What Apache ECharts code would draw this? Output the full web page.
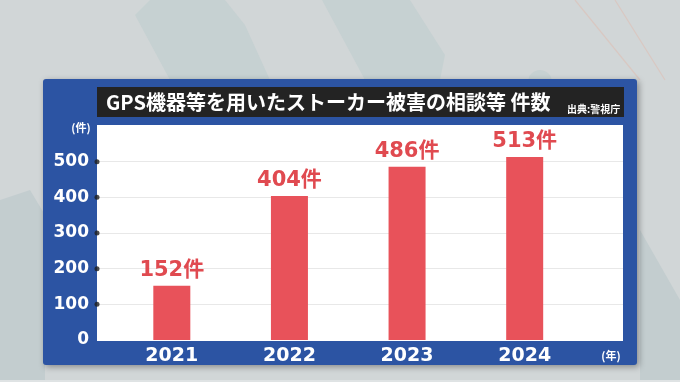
<!DOCTYPE html>
<html>
<head>
<meta charset="utf-8">
<script src="https://cdn.jsdelivr.net/npm/echarts@6/dist/echarts.min.js"></script>
<style>
html,body{margin:0;padding:0;background:#d1d6d7;}
#chart{width:680px;height:382px;}
</style>
</head>
<body>
<div id="chart"></div>
<script>
const years = ['2021', '2022', '2023', '2024'];
const counts = [152, 404, 486, 513];
const yTicks = [0, 100, 200, 300, 400, 500];
const titleText = 'GPS機器等を用いたストーカー被害の相談等 件数';
const sourceText = '出典:警視庁';
const yUnit = '(件)';
const xUnit = '(年)';
const labelSuffix = '件';

const chart = echarts.init(document.getElementById('chart'));
const numFont = '"DejaVu Sans", "Noto Sans CJK JP", sans-serif';
const jpFont = '"Noto Sans CJK JP", sans-serif';
const dotTicks = yTicks.filter(v => v > 0);

chart.setOption({
  animation: false,
  backgroundColor: '#d1d6d7',
  graphic: [
    // background decorations
    { type: 'polygon', z: -10, shape: { points: [[0,200],[30,190],[45,215],[45,382],[0,382]] }, style: { fill: '#c3cdcf' } },
    { type: 'polygon', z: -10, shape: { points: [[135,15],[150,0],[225,0],[245,25],[270,80],[170,80]] }, style: { fill: '#c6d1d2' } },
    { type: 'polygon', z: -10, shape: { points: [[322,0],[410,0],[445,55],[440,80],[365,80]] }, style: { fill: '#c6d1d2' } },
    { type: 'circle', z: -10, shape: { cx: 540, cy: 82, r: 12 }, style: { fill: '#c6d1d2' } },
    { type: 'polygon', z: -10, shape: { points: [[640,230],[680,300],[680,382],[640,382]] }, style: { fill: '#c3cdcf' } },
    { type: 'polyline', z: -10, shape: { points: [[575,0],[640,80]] }, style: { stroke: '#d9c8c2', lineWidth: 1.2, fill: null } },
    { type: 'polyline', z: -10, shape: { points: [[615,0],[665,80]] }, style: { stroke: '#d9c8c2', lineWidth: 1.2, fill: null } },
    { type: 'rect', z: -10, shape: { x: 0, y: 380, width: 680, height: 2 }, style: { fill: '#dfe3e4' } },
    // panel
    { type: 'rect', z: -5, shape: { x: 43, y: 79, width: 594, height: 286, r: 3 },
      style: { fill: '#2c54a3', shadowBlur: 6, shadowColor: 'rgba(0,0,0,0.35)', shadowOffsetX: 2, shadowOffsetY: 2 } },
    // title bar
    { type: 'rect', z: -4, shape: { x: 97, y: 87, width: 527, height: 30 }, style: { fill: '#232323' } },
    { type: 'text', z: -3, style: { x: 106, y: 102, text: titleText, fill: '#ffffff', font: 'bold 20px ' + jpFont, textVerticalAlign: 'middle' } },
    { type: 'text', z: -3, style: { x: 567, y: 109, text: sourceText, fill: '#ffffff', font: 'bold 10px ' + jpFont, textVerticalAlign: 'middle' } },
    // plot area
    { type: 'rect', z: -4, shape: { x: 97, y: 125, width: 526, height: 215 }, style: { fill: '#ffffff' } },
    { type: 'text', z: -3, style: { x: 81, y: 128, text: yUnit, fill: '#ffffff', font: 'bold 11px ' + jpFont, textAlign: 'center', textVerticalAlign: 'middle' } },
    { type: 'text', z: -3, style: { x: 611, y: 356, text: xUnit, fill: '#ffffff', font: 'bold 11px ' + jpFont, textAlign: 'center', textVerticalAlign: 'middle' } }
  ],
  grid: [
    { left: 97, right: 57, top: 126, bottom: 42 },
    { left: 113, right: 96.5, top: 126, bottom: 42 }
  ],
  xAxis: [
    { type: 'value', gridIndex: 0, min: 0, max: 1, show: false },
    { type: 'category', gridIndex: 1, data: years,
      axisLine: { show: false }, axisTick: { show: false },
      axisLabel: { color: '#ffffff', fontSize: 19, fontWeight: 'bold', fontFamily: numFont, margin: 7 } }
  ],
  yAxis: [
    { type: 'value', gridIndex: 0, min: 0, max: 600, interval: 100,
      axisLine: { show: false }, axisTick: { show: false },
      axisLabel: { color: '#ffffff', fontSize: 17, fontWeight: 'bold', fontFamily: numFont, margin: 8,
        formatter: v => (yTicks.indexOf(v) >= 0 ? String(v) : '') },
      splitLine: { show: true, lineStyle: { color: ['#ffffff','#e8e8e8','#e8e8e8','#e8e8e8','#e8e8e8','#e8e8e8','#ffffff'], width: 1 } } },
    { type: 'value', gridIndex: 1, min: 0, max: 600, show: false, splitLine: { show: false } }
  ],
  series: [
    { type: 'scatter', xAxisIndex: 0, yAxisIndex: 0, data: dotTicks.map(v => [0, v]),
      symbolSize: 5, itemStyle: { color: '#1e1e1e' }, clip: false, silent: true },
    { type: 'bar', xAxisIndex: 1, yAxisIndex: 1, data: counts, barWidth: 37,
      itemStyle: { color: '#e8525a' },
      label: { show: true, position: 'top', distance: 5, color: '#e04a50', fontSize: 21, fontWeight: 'bold', fontFamily: numFont,
        formatter: p => p.value + labelSuffix } }
  ]
});
</script>
</body>
</html>
